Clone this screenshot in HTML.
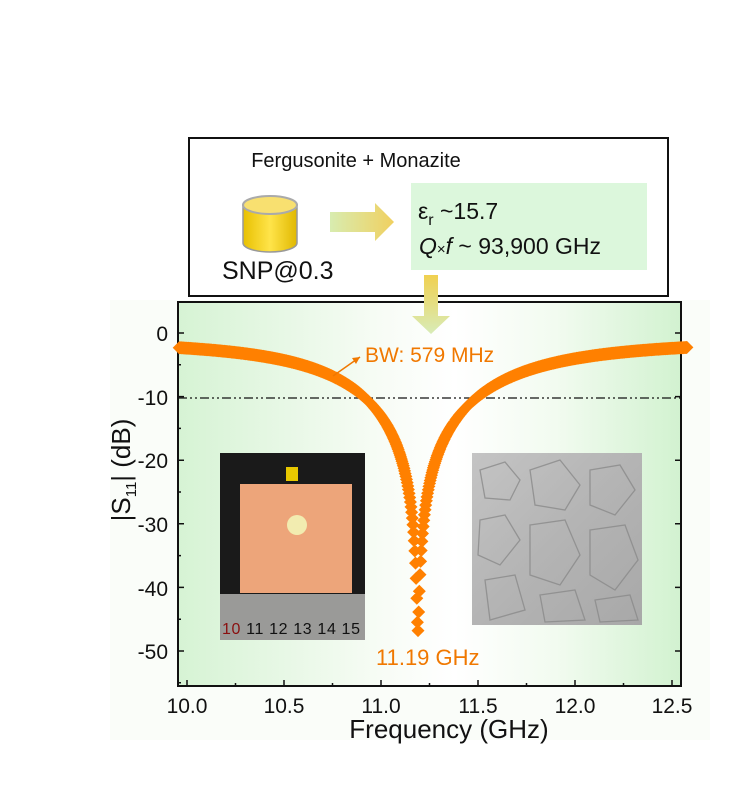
<!DOCTYPE html>
<html><head><meta charset="utf-8"><style>
body{margin:0;background:#fff;width:756px;height:806px;overflow:hidden;font-family:"Liberation Sans",sans-serif}
svg text{font-family:"Liberation Sans",sans-serif}
</style></head><body>
<svg id="s" width="756" height="806" viewBox="0 0 756 806" xmlns="http://www.w3.org/2000/svg">
<defs>
<linearGradient id="bg" x1="0" x2="1" y1="0" y2="0">
<stop offset="0" stop-color="#d6f3d4"/><stop offset="0.4" stop-color="#f7fcf5"/><stop offset="0.55" stop-color="#ffffff"/><stop offset="0.75" stop-color="#f2fbf0"/><stop offset="1" stop-color="#d2f2d0"/>
</linearGradient>
<linearGradient id="ar" x1="0" x2="1"><stop offset="0" stop-color="#d8ecb0"/><stop offset="1" stop-color="#f0d060"/></linearGradient>
<linearGradient id="ard" x1="0" x2="0" y1="0" y2="1"><stop offset="0" stop-color="#f0d050"/><stop offset="1" stop-color="#d8ecb8"/></linearGradient>
<linearGradient id="cyl" x1="0" x2="1"><stop offset="0" stop-color="#e8c000"/><stop offset="0.5" stop-color="#ffe44a"/><stop offset="1" stop-color="#e0b800"/></linearGradient>
<linearGradient id="sem" x1="0" x2="1" y1="0" y2="1"><stop offset="0" stop-color="#c4c4c4"/><stop offset="0.5" stop-color="#b4b4b4"/><stop offset="1" stop-color="#a8a8a8"/></linearGradient>
</defs>
<rect x="110" y="300" width="600" height="440" fill="#fafdf9"/>
<rect x="178" y="302" width="503" height="384" fill="url(#bg)" stroke="#111" stroke-width="2"/>
<rect x="189" y="138" width="479" height="158" fill="#fff" stroke="#111" stroke-width="2"/>
<text x="356" y="167" font-size="20" text-anchor="middle" fill="#111">Fergusonite + Monazite</text>
<rect x="411" y="183" width="236" height="87" fill="#dcf7dc"/>
<text x="418" y="219" font-size="23" fill="#111">ε<tspan font-size="16" dy="6">r</tspan><tspan dy="-6"> ~15.7</tspan></text>
<text x="419" y="254" font-size="23" fill="#111"><tspan font-style="italic">Q</tspan><tspan font-size="15">×</tspan><tspan font-style="italic">f</tspan> ~ 93,900 GHz</text>
<path d="M243 205 L243 243 A27 9 0 0 0 297 243 L297 205 Z" fill="url(#cyl)" stroke="#999" stroke-width="1.5"/>
<ellipse cx="270" cy="205" rx="27" ry="9" fill="#f8e070" stroke="#aaa" stroke-width="2"/>
<text x="222" y="279" font-size="25" fill="#111">SNP@0.3</text>
<path d="M330 212 L375 212 L375 203 L394 222 L375 241 L375 232 L330 232 Z" fill="url(#ar)"/>
<path d="M424 275 L438 275 L438 316 L450 316 L431 334 L412 316 L424 316 Z" fill="url(#ard)"/>
<line x1="178" y1="398" x2="681" y2="398" stroke="#111" stroke-width="1.3" stroke-dasharray="9 3 2 3 2 3"/>
<rect x="220" y="453" width="145" height="187" fill="#1a1a1a"/>
<rect x="240" y="484" width="112" height="109" fill="#eda57a"/>
<rect x="286" y="467" width="12" height="14" fill="#e8c800"/>
<circle cx="297" cy="525" r="10" fill="#f2ecb0"/>
<rect x="220" y="594" width="145" height="46" fill="#9a9a98"/>
<text x="222" y="634" font-size="16" font-family="Liberation Serif" fill="#111" textLength="138"><tspan fill="#8a1010">10</tspan> 11 12 13 14 15</text>
<rect x="472" y="453" width="170" height="172" fill="url(#sem)"/>
<g fill="none" stroke="#8a8a8a" stroke-width="1.3" opacity="0.8">
<path d="M480 470 L505 462 L520 480 L510 500 L485 498 Z M530 470 L560 460 L580 485 L565 510 L535 505 Z M590 470 L620 465 L635 490 L615 515 L590 505 Z M480 520 L505 515 L520 540 L500 565 L478 555 Z M530 525 L565 520 L580 555 L560 585 L530 575 Z M590 530 L625 525 L638 560 L615 590 L590 575 Z M485 580 L515 575 L525 610 L490 620 Z M540 595 L575 590 L585 620 L545 622 Z M595 600 L630 595 L638 620 L600 622 Z"/>
</g>
<g id="pts" fill="#ff8000"></g>
<text x="365" y="362" font-size="21" fill="#f07800">BW: 579 MHz</text>
<line x1="333" y1="376" x2="360" y2="357" stroke="#f07800" stroke-width="1.5"/>
<path d="M360 357 L352 358 L356 364 Z" fill="#f07800"/>
<text x="376" y="665" font-size="22" fill="#f07800">11.19 GHz</text>
<g stroke="#111" stroke-width="1.5" id="ticks"></g>
<g font-size="21" fill="#111" text-anchor="end">
<text x="168" y="341">0</text><text x="168" y="405">-10</text><text x="168" y="468">-20</text><text x="168" y="532">-30</text><text x="168" y="596">-40</text><text x="168" y="659">-50</text>
</g>
<g font-size="21" fill="#111" text-anchor="middle">
<text x="187" y="713">10.0</text><text x="284" y="713">10.5</text><text x="381" y="713">11.0</text><text x="478" y="713">11.5</text><text x="575" y="713">12.0</text><text x="672" y="713">12.5</text>
</g>
<text x="449" y="738" font-size="26" text-anchor="middle" fill="#111">Frequency (GHz)</text>
<text transform="translate(130,470) rotate(-90)" font-size="26" text-anchor="middle" fill="#111">|S<tspan font-size="15" dy="6">11</tspan><tspan dy="-6">|  (dB)</tspan></text>
</svg>
<script>
var ns="http://www.w3.org/2000/svg";
function X(f){return 187+(f-10)*194}
function Y(d){return 333-d*6.36}
var g=document.getElementById('pts'),d="";
for(var f=9.96;f<=12.58;f+=0.0033){
 var w=f<11.19?0.74:0.82,x=(f-11.19)/w,x2=x*x;
 var r=0.8*(x2+2.5e-5)/(x2+1);var db=10*Math.log10(r);
 var cx=X(f),cy=Y(db),s=6.5;
 d+="M"+cx.toFixed(1)+" "+(cy-s).toFixed(1)+"l"+s+" "+s+"l"+(-s)+" "+s+"l"+(-s)+" "+(-s)+"z";
}
var p=document.createElementNS(ns,'path');p.setAttribute('d',d);g.appendChild(p);
var t=document.getElementById('ticks'),td="";
for(var i=0;i<=5;i++){var y=Y(-10*i);td+="M178 "+y+"h6M681 "+y+"h-6";}
for(var i=0;i<=5;i++){var y=Y(-10*i+-5);td+="M178 "+y+"h3";}
for(var i=0;i<=10;i++){var x=X(10+i*0.25);td+="M"+x+" 686v"+(i%2?-3:-6);}
var q=document.createElementNS(ns,'path');q.setAttribute('d',td);t.appendChild(q);
</script>
</body></html>
